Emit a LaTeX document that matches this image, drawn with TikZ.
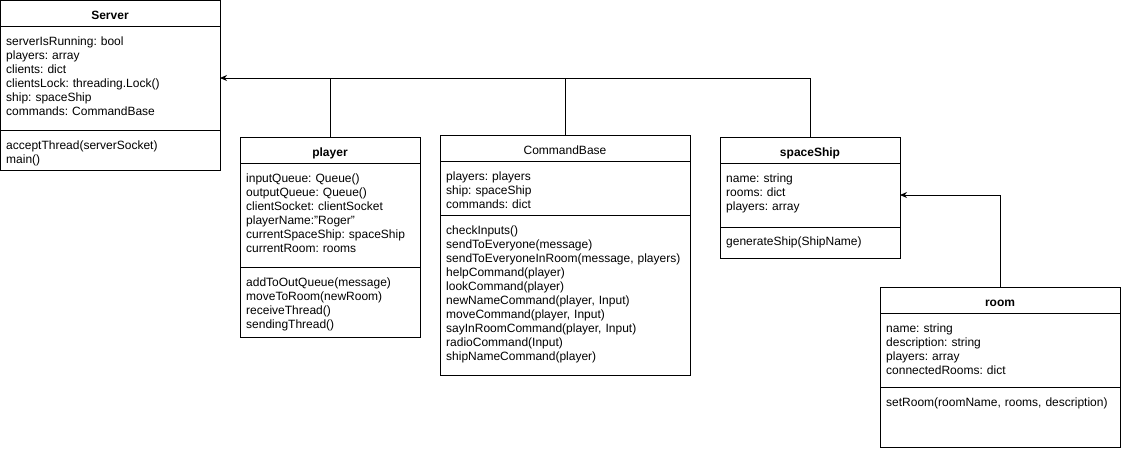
\documentclass[tikz,border=0pt]{standalone}
\usepackage{fontspec}
\setmainfont{Liberation Sans}
\usepackage{xcolor}
\usetikzlibrary{arrows.meta, positioning}
\frenchspacing
\tikzset{
  classtitle/.style={rectangle, draw, line width=0.9pt, anchor=north west,
    minimum height=26pt, inner sep=0pt, outer sep=0pt,
    font=\fontsize{12}{14}\selectfont\bfseries, text height=12pt, text depth=0pt},
  classpart/.style={rectangle, draw, line width=0.9pt, inner sep=0pt, outer sep=0pt},
  members/.style={inner sep=0pt, align=left, text width=240pt, text height=10pt,
    font=\fontsize{12}{14}\selectfont},
  assoc/.style={line width=0.9pt, -{Stealth[length=7pt,width=6pt]}},
  link/.style={line width=0.9pt}
}

\begin{document}
\begin{tikzpicture}[x=1pt,y=-1pt]
\useasboundingbox (0,0) rectangle (1121,450);

% Server
\node[classtitle, minimum width=220pt] (server) at (0,0) {Server};
\node[classpart, minimum width=220pt, minimum height=104pt, below=0pt of server] (serverattr) {};
\node[classpart, minimum width=220pt, minimum height=40pt, below=0pt of serverattr] (servermeth) {};
\node[members, below right=9pt and 6pt of serverattr.north west] (serverattrtext) {
  serverIsRunning: bool\\
  players: array\\
  clients: dict\\
  clientsLock: threading.Lock()\\
  ship: spaceShip\\
  commands: CommandBase};
\node[members, below right=9pt and 6pt of servermeth.north west] (servermethtext) {
  acceptThread(serverSocket)\\
  main()};

% player
\node[classtitle, minimum width=180pt] (player) at (240,137) {player};
\node[classpart, minimum width=180pt, minimum height=104pt, below=0pt of player] (playerattr) {};
\node[classpart, minimum width=180pt, minimum height=70pt, below=0pt of playerattr] (playermeth) {};
\node[members, below right=9pt and 6pt of playerattr.north west] (playerattrtext) {
  inputQueue: Queue()\\
  outputQueue: Queue()\\
  clientSocket: clientSocket\\
  playerName:\symbol{34}Roger\symbol{34}\\
  currentSpaceShip: spaceShip\\
  currentRoom: rooms};
\node[members, below right=9pt and 6pt of playermeth.north west] (playermethtext) {
  addToOutQueue(message)\\
  moveToRoom(newRoom)\\
  receiveThread()\\
  sendingThread()};

% CommandBase
\node[classtitle, minimum width=250pt, font=\fontsize{12}{14}\selectfont] (cmdbase) at (440,135) {CommandBase};
\node[classpart, minimum width=250pt, minimum height=54pt, below=0pt of cmdbase] (cmdbaseattr) {};
\node[classpart, minimum width=250pt, minimum height=160pt, below=0pt of cmdbaseattr] (cmdbasemeth) {};
\node[members, below right=9pt and 6pt of cmdbaseattr.north west] (cmdbaseattrtext) {
  players: players\\
  ship: spaceShip\\
  commands: dict};
\node[members, below right=9pt and 6pt of cmdbasemeth.north west] (cmdbasemethtext) {
  checkInputs()\\
  sendToEveryone(message)\\
  sendToEveryoneInRoom(message, players)\\
  helpCommand(player)\\
  lookCommand(player)\\
  newNameCommand(player, Input)\\
  moveCommand(player, Input)\\
  sayInRoomCommand(player, Input)\\
  radioCommand(Input)\\
  shipNameCommand(player)};

% spaceShip
\node[classtitle, minimum width=180pt] (ship) at (720,137) {spaceShip};
\node[classpart, minimum width=180pt, minimum height=64pt, below=0pt of ship] (shipattr) {};
\node[classpart, minimum width=180pt, minimum height=31pt, below=0pt of shipattr] (shipmeth) {};
\node[members, below right=9pt and 6pt of shipattr.north west] (shipattrtext) {
  name: string\\
  rooms: dict\\
  players: array};
\node[members, below right=8pt and 6pt of shipmeth.north west] (shipmethtext) {
  generateShip(ShipName)};

% room
\node[classtitle, minimum width=240pt] (room) at (880,287) {room};
\node[classpart, minimum width=240pt, minimum height=74pt, below=0pt of room] (roomattr) {};
\node[classpart, minimum width=240pt, minimum height=60pt, below=0pt of roomattr] (roommeth) {};
\node[members, below right=9pt and 6pt of roomattr.north west] (roomattrtext) {
  name: string\\
  description: string\\
  players: array\\
  connectedRooms: dict};
\node[members, below right=9pt and 6pt of roommeth.north west] (roommethtext) {
  setRoom(roomName, rooms, description)};

% connectors
\draw[assoc] (ship.north) |- (serverattr.east);
\draw[link] (player.north) -- (player.north |- serverattr.east);
\draw[link] (cmdbase.north) -- (cmdbase.north |- serverattr.east);
\draw[assoc] (room.north) |- (shipattr.east);
\end{tikzpicture}
\end{document}
